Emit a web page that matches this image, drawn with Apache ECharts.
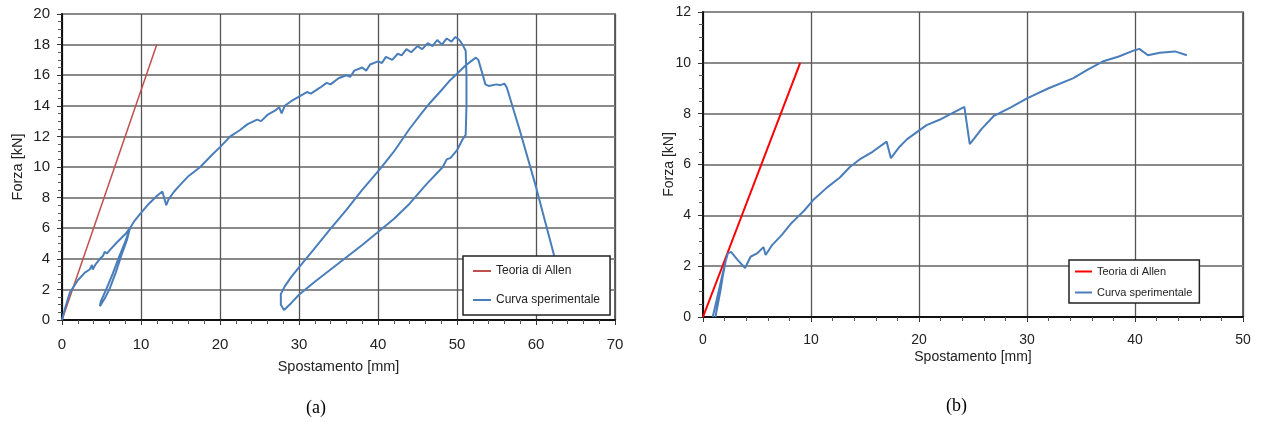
<!DOCTYPE html>
<html lang="it">
<head>
  <meta charset="UTF-8">
  <title>Forza - Spostamento</title>
  <script src="https://cdn.jsdelivr.net/npm/echarts@6/dist/echarts.min.js"></script>
  <style>
    body { margin: 0; background: #fff; }
    .wrap { display: flex; width: 1263px; height: 426px; }
    #chartA { width: 631px; height: 426px; }
    #chartB { width: 632px; height: 426px; }
  </style>
</head>
<body>
  <div class="wrap">
    <div id="chartA"></div>
    <div id="chartB"></div>
  </div>
  <script>
    // ---- dati (a) ----
    const xTicksA = [0, 10, 20, 30, 40, 50, 60, 70];
    const yTicksA = [0, 2, 4, 6, 8, 10, 12, 14, 16, 18, 20];
    const teoriaA = [[0, 0], [12, 18]];
    const curvaA = [
      [0, 0], [0.3, 0.6], [0.7, 1.3], [1.0, 1.8], [1.5, 2.2], [2.0, 2.6], [2.9, 3.1], [3.5, 3.3],
      [3.8, 3.6], [3.9, 3.3], [4.2, 3.6], [4.8, 4.0], [5.2, 4.2], [5.4, 4.45], [5.7, 4.35], [6.1, 4.6],
      [7.0, 5.1], [8.0, 5.6], [8.6, 6.0],
      [8.2, 5.2], [7.5, 4.2], [6.8, 3.1], [6.0, 2.0], [5.4, 1.4], [4.8, 0.9],
      [4.9, 1.2], [5.6, 2.0], [6.4, 3.0], [7.2, 4.1], [8.0, 5.1], [8.6, 6.0],
      [9.2, 6.5], [10, 7.0], [11, 7.6], [12, 8.1], [12.7, 8.4], [13.2, 7.5], [13.5, 7.9], [14.2, 8.4],
      [14.9, 8.8], [16, 9.4], [17.5, 10.0], [19, 10.8], [20, 11.3], [21.3, 12.0], [22.5, 12.4],
      [23.5, 12.8], [24.7, 13.1], [25.2, 13.0], [26, 13.4], [27, 13.7], [27.5, 13.9], [27.8, 13.5],
      [28.2, 14.0], [29, 14.3], [30, 14.6], [31, 14.9], [31.5, 14.8], [32.7, 15.2], [33.5, 15.5],
      [34, 15.4], [35, 15.8], [36, 16.0], [36.5, 15.9], [37, 16.3], [38, 16.5], [38.5, 16.3],
      [39, 16.7], [40, 16.9], [40.5, 16.8], [41, 17.2], [41.8, 17.0], [42.5, 17.4], [43, 17.3],
      [43.6, 17.7], [44.2, 17.5], [45, 17.9], [45.6, 17.7], [46.3, 18.1], [46.9, 17.9], [47.5, 18.3],
      [48.1, 18.0], [48.7, 18.4], [49.3, 18.2], [49.8, 18.5], [50.3, 18.3], [50.7, 18.0], [51.1, 17.6],
      [51.2, 16.0], [51.2, 14.0], [51.1, 12.1], [50.7, 11.8], [50.0, 11.1], [49.2, 10.6], [48.7, 10.5],
      [48.2, 10.0], [46, 8.8], [44, 7.6], [42, 6.6], [40, 5.75], [38, 4.9], [36, 4.1], [34, 3.3],
      [32, 2.5], [30, 1.65], [29, 1.1], [28.1, 0.65], [27.7, 1.0], [27.7, 1.7], [28.2, 2.2],
      [29, 2.8], [30.1, 3.5], [32, 4.7], [33.9, 5.9], [36, 7.2], [38, 8.5], [40.3, 9.9], [42, 11.0],
      [44, 12.5], [45.5, 13.5], [46.6, 14.2], [48, 15.0], [49, 15.6], [50, 16.1], [51, 16.6],
      [52, 17.0], [52.4, 17.15], [52.7, 17.0], [53.1, 16.3], [53.6, 15.4], [54, 15.3], [55, 15.4],
      [55.5, 15.35], [56, 15.45], [56.3, 15.2], [56.5, 15.1], [58, 12.3], [60, 8.7], [62.3, 4.2]
    ];

    // ---- dati (b) ----
    const xTicksB = [0, 10, 20, 30, 40, 50];
    const yTicksB = [0, 2, 4, 6, 8, 10, 12];
    const teoriaB = [[0, 0], [9.0, 10.0]];
    const curvaB = [
      [0.9, 0], [1.5, 1.1], [2.0, 2.05], [1.6, 1.0], [1.15, 0], [1.6, 1.1], [2.1, 2.2], [2.3, 2.5],
      [2.6, 2.56], [3.2, 2.25], [3.9, 1.93], [4.4, 2.37], [5.0, 2.5], [5.6, 2.75], [5.8, 2.44],
      [6.4, 2.83], [7.3, 3.23], [8.2, 3.7], [8.8, 3.95], [9.4, 4.2], [10.2, 4.6], [11.5, 5.1],
      [12.7, 5.5], [13.6, 5.9], [14.5, 6.2], [15.7, 6.5], [17.0, 6.9], [17.4, 6.25], [18.2, 6.7],
      [18.9, 7.0], [20.7, 7.55], [21.9, 7.76], [23, 8.0], [24.2, 8.27], [24.7, 6.8], [25.8, 7.4],
      [26.9, 7.9], [28.5, 8.25], [30.0, 8.6], [32, 9.0], [34.3, 9.4], [35.5, 9.7], [37.0, 10.05],
      [38.5, 10.25], [39.8, 10.47], [40.4, 10.55], [41.2, 10.3], [42.3, 10.4], [43.7, 10.45], [44.8, 10.3]
    ];

    const sans = '"Liberation Sans", Arial, sans-serif';

    function buildOption(cfg) {
      return {
        animation: false,
        grid: {
          left: cfg.grid[0], top: cfg.grid[1], width: cfg.grid[2], height: cfg.grid[3],
          show: true, borderColor: '#3a3a3a', borderWidth: 1.5, backgroundColor: '#fff'
        },
        legend: {
          orient: 'vertical',
          left: cfg.legend.left,
          top: cfg.legend.top,
          padding: cfg.legend.padding,
          itemGap: cfg.legend.itemGap,
          itemWidth: cfg.legend.itemWidth,
          itemHeight: 2,
          icon: 'rect',
          backgroundColor: '#fff',
          borderColor: '#222',
          borderWidth: 1.5,
          textStyle: { fontFamily: sans, fontSize: cfg.legend.fontSize, color: '#222' },
          data: ['Teoria di Allen', 'Curva sperimentale']
        },
        xAxis: {
          type: 'value',
          min: cfg.xTicks[0],
          max: cfg.xTicks[cfg.xTicks.length - 1],
          interval: cfg.xTicks[1] - cfg.xTicks[0],
          name: 'Spostamento [mm]',
          nameLocation: 'middle',
          nameGap: cfg.xNameGap,
          nameMoveOverlap: false,
          nameTextStyle: { fontFamily: sans, fontSize: cfg.nameSize, color: '#222' },
          axisLine: { show: true, onZero: false, lineStyle: { color: '#111', width: 2 } },
          axisTick: { show: true, length: 5, lineStyle: { color: '#333' } },
          minorTick: { show: true, splitNumber: 5, length: 4, lineStyle: { color: '#555' } },
          axisLabel: { fontFamily: sans, fontSize: cfg.labelSize, color: '#222', margin: cfg.xLabelMargin },
          splitLine: { show: true, lineStyle: { color: '#555', width: 1.3 } }
        },
        yAxis: {
          type: 'value',
          min: cfg.yTicks[0],
          max: cfg.yTicks[cfg.yTicks.length - 1],
          interval: cfg.yTicks[1] - cfg.yTicks[0],
          name: 'Forza [kN]',
          nameLocation: 'middle',
          nameGap: cfg.yNameGap,
          nameMoveOverlap: false,
          nameTextStyle: { fontFamily: sans, fontSize: cfg.nameSize, color: '#222' },
          axisLine: { show: true, onZero: false, lineStyle: { color: '#111', width: 2 } },
          axisTick: { show: true, length: 5, lineStyle: { color: '#333' } },
          minorTick: { show: true, splitNumber: 4, length: 4, lineStyle: { color: '#555' } },
          axisLabel: { fontFamily: sans, fontSize: cfg.labelSize, color: '#222', margin: 12 },
          splitLine: { show: true, lineStyle: { color: '#8a8a8a', width: 2 } }
        },
        graphic: [{
          type: 'text',
          left: cfg.caption[0],
          top: cfg.caption[1],
          style: { text: cfg.caption[2], font: '18px "Liberation Serif", "Times New Roman", serif', fill: '#000' }
        }],
        series: [
          {
            name: 'Teoria di Allen',
            type: 'line',
            data: cfg.teoria,
            symbol: 'none',
            lineStyle: { color: cfg.redColor, width: cfg.redWidth },
            itemStyle: { color: cfg.redColor }
          },
          {
            name: 'Curva sperimentale',
            type: 'line',
            data: cfg.curva,
            symbol: 'none',
            lineStyle: { color: '#4a7ebb', width: 2 },
            itemStyle: { color: '#4a7ebb' }
          }
        ]
      };
    }

    let chartA = echarts.init(document.getElementById('chartA'));
    chartA.setOption(buildOption({
      grid: [62, 14, 553, 306],
      xTicks: xTicksA, yTicks: yTicksA,
      teoria: teoriaA, curva: curvaA,
      redColor: '#c0504d', redWidth: 1.5,
      labelSize: 15, nameSize: 14.5, xLabelMargin: 17, xNameGap: 39, yNameGap: 37,
      legend: { left: 463, top: 256, padding: [9, 10, 9, 10], itemGap: 17, itemWidth: 18, fontSize: 12 },
      caption: [306, 399, '(a)']
    }));

    let chartB = echarts.init(document.getElementById('chartB'));
    chartB.setOption(buildOption({
      grid: [72, 12, 540, 305],
      xTicks: xTicksB, yTicks: yTicksB,
      teoria: teoriaB, curva: curvaB,
      redColor: '#ff0000', redWidth: 2,
      labelSize: 14, nameSize: 14, xLabelMargin: 16, xNameGap: 33, yNameGap: 27,
      legend: { left: 438, top: 260, padding: [6, 7, 5, 6], itemGap: 10, itemWidth: 17, fontSize: 11 },
      caption: [315, 397, '(b)']
    }));
  </script>
</body>
</html>
